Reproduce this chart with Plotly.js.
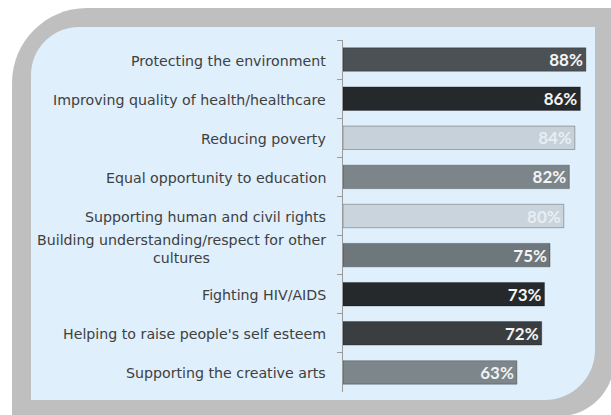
<!DOCTYPE html>
<html>
<head>
<meta charset="utf-8">
<script src="https://cdn.plot.ly/plotly-3.0.1.min.js"></script>
<style>
  html, body { margin: 0; padding: 0; background: #ffffff; }
  #chart { width: 611px; height: 415px; }
</style>
</head>
<body>
<div id="chart"></div>
<script>
// ---- data ----
const categories = [
  "Protecting the environment",
  "Improving quality of health/healthcare",
  "Reducing poverty",
  "Equal opportunity to education",
  "Supporting human and civil rights",
  "Building understanding/respect for other<br>cultures",
  "Fighting HIV/AIDS",
  "Helping to raise people's self esteem",
  "Supporting the creative arts"
];
const values = [88, 86, 84, 82, 80, 75, 73, 72, 63];
const valueLabels = ["88%", "86%", "84%", "82%", "80%", "75%", "73%", "72%", "63%"];

// ---- styles ----
const barColors = ["#4c5155", "#26292c", "#c6d1d9", "#7b858a", "#c9d4dc", "#6e777c", "#26292c", "#3a3e41", "#7c868b"];
const textColors = ["#f4f4f4", "#f4f4f4", "#e8eef3", "#f4f4f4", "#e8eef3", "#f4f4f4", "#f4f4f4", "#f4f4f4", "#f0f0f0"];

const W = 611, H = 415, L = 343, R = 16, T = 40, B = 23;
const pw = W - L - R, ph = H - T - B;
function P(px, py) { return ((px - L) / pw).toFixed(5) + "," + ((H - B - py) / ph).toFixed(5); }
function roundedPath(x0, y0, x1, y1, rTL, rBR) {
  const k1 = 0.5523 * rTL, k2 = 0.5523 * rBR;
  return "M" + P(x0, y1) +
    " L" + P(x0, y0 + rTL) +
    " C" + P(x0, y0 + rTL - k1) + " " + P(x0 + rTL - k1, y0) + " " + P(x0 + rTL, y0) +
    " L" + P(x1, y0) +
    " L" + P(x1, y1 - rBR) +
    " C" + P(x1, y1 - rBR + k2) + " " + P(x1 - rBR + k2, y1) + " " + P(x1 - rBR, y1) +
    " Z";
}

const trace = {
  type: "bar",
  orientation: "h",
  y: categories,
  x: values,
  text: valueLabels,
  textposition: "inside",
  insidetextanchor: "end",
  constraintext: "none",
  textangle: 0,
  textfont: { family: "Lato, 'Open Sans', sans-serif", size: 17, color: textColors, weight: "bold" },
  marker: { color: barColors, line: { color: "rgba(0,0,0,0.28)", width: 1 } },
  hoverinfo: "none",
  cliponaxis: false
};

const annotations = categories.map(c => ({
  xref: "paper", yref: "y",
  x: 0, y: c,
  xanchor: "right", yanchor: "middle",
  xshift: -15,
  yshift: c.indexOf("<br>") >= 0 ? 6 : -1,
  text: c,
  align: "center",
  showarrow: false,
  font: { family: "'DejaVu Sans', sans-serif", size: 14.2, color: "#404040" }
}));

const layout = {
  width: W, height: H,
  margin: { l: L, r: R, t: T, b: B, pad: 0 },
  paper_bgcolor: "#ffffff",
  plot_bgcolor: "rgba(0,0,0,0)",
  showlegend: false,
  bargap: 0.40,
  xaxis: {
    range: [0, 91.3],
    showgrid: false, zeroline: false, showline: false,
    showticklabels: false, ticks: "", fixedrange: true
  },
  yaxis: {
    autorange: "reversed",
    showgrid: false, zeroline: false,
    showline: true, linecolor: "#9a9a9a", linewidth: 1,
    ticks: "outside", ticklen: 5, tickcolor: "#9a9a9a", tickwidth: 1,
    tickson: "boundaries",
    showticklabels: false,
    fixedrange: true
  },
  shapes: [
    { type: "path", xref: "paper", yref: "paper", layer: "below",
      path: roundedPath(12, 8, 614, 416, 75, 55),
      fillcolor: "#bfbfbf", line: { width: 0 } },
    { type: "path", xref: "paper", yref: "paper", layer: "below",
      path: roundedPath(31, 27, 595, 400, 48, 50),
      fillcolor: "#dfeffc", line: { width: 0 } }
  ],
  annotations: annotations
};

Plotly.newPlot("chart", [trace], layout, { displayModeBar: false, staticPlot: true });
</script>
</body>
</html>
